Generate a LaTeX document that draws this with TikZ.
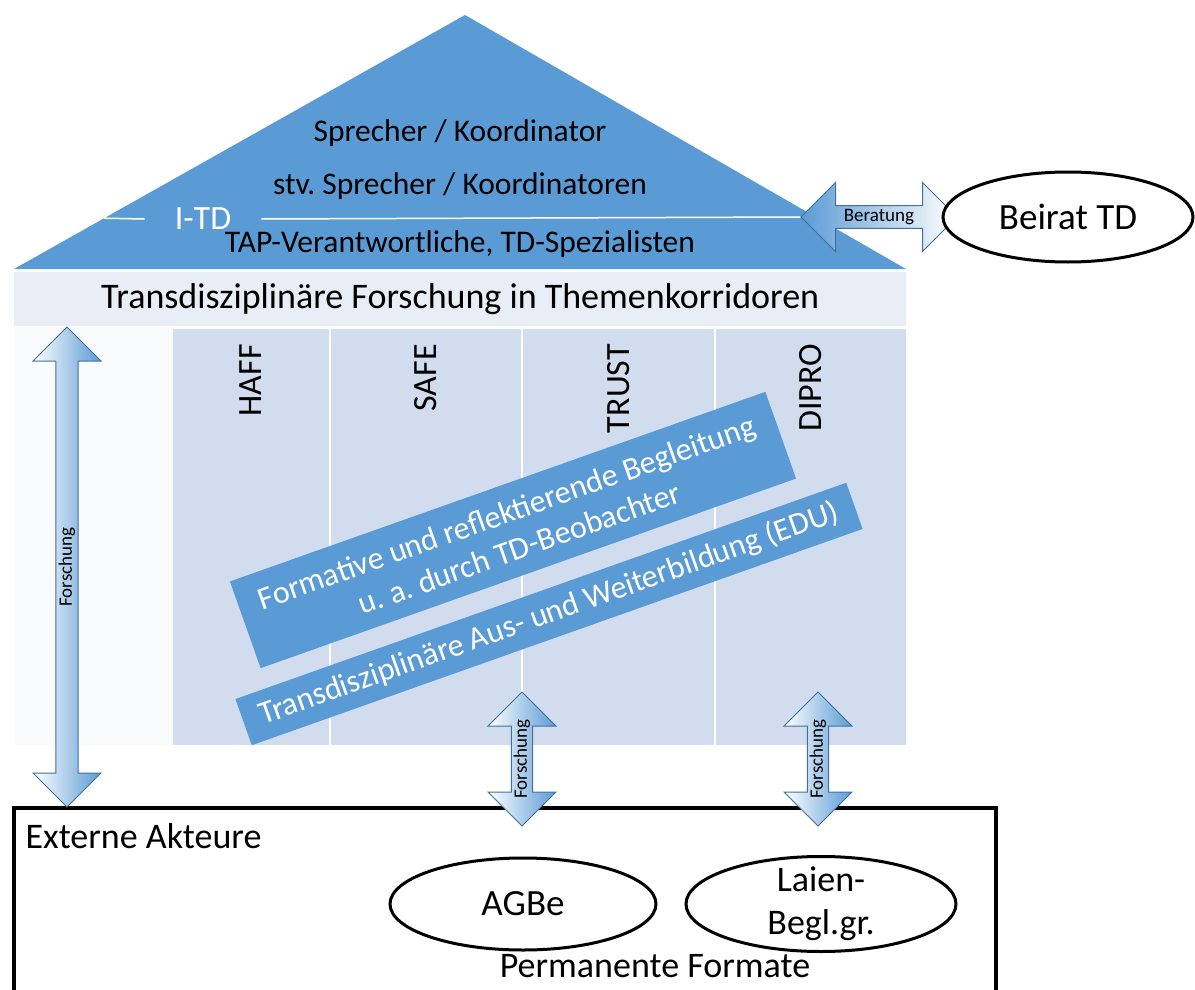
\documentclass[tikz,border=0pt]{standalone}
\usepackage{fontspec}
\setmainfont{Carlito}
\usetikzlibrary{positioning,calc,shapes.geometric,shapes.arrows}

\definecolor{roofblue}{RGB}{91,155,213}
\definecolor{bandgray}{RGB}{233,237,245}
\definecolor{colblue}{RGB}{209,220,238}
\definecolor{arrowline}{RGB}{65,113,156}
\definecolor{wallwhite}{RGB}{250,251,253}

\tikzset{
  fatarrow/.style={double arrow, draw=arrowline, line width=1pt, inner sep=0pt,
    font=\fontsize{19}{22}\selectfont},
  oval/.style={ellipse, draw=black, line width=3pt, fill=white, align=center,
    font=\fontsize{37}{43}\selectfont},
  slantband/.style={fill=roofblue, text=white, rotate=19.5, align=center, inner sep=0pt,
    font=\fontsize{32}{38}\selectfont},
  colname/.style={rotate=90, anchor=east, inner sep=0pt, font=\fontsize{34}{38}\selectfont},
  rooftext/.style={font=\fontsize{31.5}{36}\selectfont},
  bigtext/.style={font=\fontsize{36}{42}\selectfont},
}

\begin{document}
\frenchspacing
\begin{tikzpicture}[x=1pt,y=-1pt]
\useasboundingbox (0,0) rectangle (1195,990);

% roof
\coordinate (eaveL) at (14,269);
\coordinate (ridge) at (465,15);
\coordinate (eaveR) at (906,269);
\fill[roofblue] (eaveL) -- (ridge) -- (eaveR) -- cycle;
\node[rooftext] (sprecher) at (460,133) {Sprecher / Koordinator};
\node[rooftext] (stv) at (460,186) {stv. Sprecher / Koordinatoren};
\node[rooftext] (tap) at (460,244) {TAP-Verantwortliche, TD-Spezialisten};
\node[text=white, inner xsep=30pt, font=\fontsize{34}{40}\selectfont] (itd) at (203,219) {I-TD};

% Beirat
\node[fatarrow, minimum height=156pt, minimum width=69pt, double arrow head extend=17pt,
  left color=roofblue, right color=white] (berat) at (879,217) {Beratung};
\draw[white, line width=1.5pt] ($(eaveL)!0.2!(ridge)$) -- (itd.west);
\draw[white, line width=1.5pt] (itd.east) -- (berat.west);
\node[oval, minimum width=250pt, minimum height=90pt] (beirat) at (1068,217) {Beirat TD};

% corridors
\node[bigtext, fill=bandgray, minimum width=892pt, minimum height=54pt, inner sep=0pt,
  anchor=north west] (themen) at (14,272) {Transdisziplinäre Forschung in Themenkorridoren};
\fill[wallwhite] (14,327) rectangle (173,745);
\fill[colblue] (173,329) rectangle (906,745);
\foreach \x in {330,522,715}
  \draw[white, line width=1.5pt] (\x,329) -- (\x,745);
\foreach \x/\name in {251/HAFF,426/SAFE,619/TRUST,811/DIPRO}
  \node[colname] (\name) at (\x,344) {\name};

\node[slantband, minimum width=568pt, minimum height=92pt] (begleitung) at (513,530)
  {Formative und reflektierende Begleitung\\u. a. durch TD-Beobachter};
\node[slantband, minimum width=648pt, minimum height=49pt] (edu) at (549,614)
  {Transdisziplinäre Aus- und Weiterbildung (EDU)};

% external actors
\node[draw, line width=4pt, minimum width=982pt, minimum height=220pt, inner sep=0pt,
  anchor=north west] (extern) at (12,806) {};
\node[bigtext, anchor=west] (akteure) at (22,836) {Externe Akteure};
\node[oval, minimum width=266pt, minimum height=92pt] (agbe) at (523,904) {AGBe};
\node[oval, minimum width=270pt, minimum height=95pt] (laien) at (821,904) {};
\node[align=center, font=\fontsize{36}{43}\selectfont] (laientext) at (laien) {Laien-\\Begl.gr.};
\node[bigtext] (permanent) at (655,966) {Permanente Formate};

% research arrows
\node[fatarrow, rotate=90, minimum height=480pt, minimum width=68pt, double arrow head extend=18pt,
  left color=white, right color=roofblue] (fleft) at (67,567) {Forschung};
\node[fatarrow, rotate=90, minimum height=134pt, minimum width=68pt, double arrow head extend=19pt,
  left color=white, right color=roofblue] (fmid) at (522,759) {Forschung};
\node[fatarrow, rotate=90, minimum height=134pt, minimum width=68pt, double arrow head extend=19pt,
  left color=white, right color=roofblue] (fright) at (818,759) {Forschung};
\end{tikzpicture}
\end{document}
